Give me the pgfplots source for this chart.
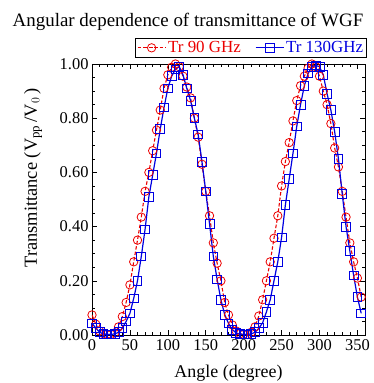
\documentclass[border=0pt]{standalone}
\usepackage{pgfplots}
\pgfplotsset{compat=1.18}
\usepackage{fontspec}
\setmainfont{Liberation Serif}
\definecolor{myred}{RGB}{235,0,0}
\definecolor{myblue}{RGB}{0,0,225}
\begin{document}
\begin{tikzpicture}[x=1bp,y=1bp]
\path[use as bounding box] (-92,-48) rectangle (282,335);
\begin{axis}[
  at={(0,0)}, anchor=origin,
  scale only axis, width=273bp, height=271bp,
  xmin=0, xmax=360, ymin=0, ymax=1,
  xtick={0,50,...,350}, minor x tick num=4,
  ytick={0,0.2,...,1.0}, minor y tick num=3,
  tick align=inside, tick pos=both,
  major tick length=5bp, minor tick length=3bp,
  every tick/.style={black, line width=0.6pt},
  axis line style={line width=0.9pt},
  /pgf/number format/assume math mode=true,
  yticklabel style={/pgf/number format/.cd, fixed, fixed zerofill, precision=2},
  ticklabel style={font=\fontsize{16.5}{16.5}\selectfont},
  xticklabel style={yshift=-1bp},
  xlabel={Angle (degree)},
  ylabel={Transmittance (V$_{\mathrm{pp}}$\,/V$_0$\,)},
  xlabel style={font=\fontsize{18}{18}\selectfont, at={(axis description cs:0.5,0)}, anchor=base, yshift=-42bp},
  ylabel style={font=\fontsize{18.5}{18.5}\selectfont, at={(axis description cs:-0.216,0.58)}, anchor=center},
  legend columns=2,
  legend style={at={(1.007,1)}, anchor=south east, yshift=6bp, draw=black, line width=0.6pt,
    font=\fontsize{17}{17}\selectfont, inner sep=1.5pt, /tikz/every even column/.append style={column sep=12bp}},
  legend image code/.code={\draw[mark repeat=2,mark phase=2] plot coordinates {(0bp,0bp) (14bp,0bp) (28bp,0bp)};},
  legend cell align=left,
]
\addplot[myred, dash pattern=on 3.5pt off 2pt, line width=1.1pt, mark=o, mark size=4.2bp, mark options={solid, line width=0.8pt}] coordinates {
(0,0.074)(5,0.04)(10,0.015)(15,0.005)(20,0.002)(25,0.002)(30,0.008)(35,0.03)(40,0.068)(45,0.12)
(50,0.185)(55,0.27)(60,0.35)(65,0.435)(70,0.53)(75,0.60)(80,0.68)(85,0.756)(90,0.83)(95,0.91)
(100,0.96)(105,0.988)(110,1.0)(115,0.99)(120,0.955)(125,0.915)(130,0.875)(135,0.80)(140,0.73)(145,0.63)
(150,0.53)(155,0.44)(160,0.34)(165,0.265)(170,0.20)(175,0.12)(180,0.074)(185,0.037)(190,0.015)(195,0.005)
(200,0.002)(205,0.002)(210,0.01)(215,0.03)(220,0.07)(225,0.13)(230,0.20)(235,0.27)(240,0.357)(245,0.44)
(250,0.55)(255,0.64)(260,0.71)(265,0.79)(270,0.865)(275,0.92)(280,0.955)(285,0.985)(290,1.0)(295,0.99)
(300,0.955)(305,0.90)(310,0.85)(315,0.78)(320,0.69)(325,0.62)(330,0.53)(335,0.435)(340,0.34)(345,0.27)
(350,0.21)(355,0.14)
};
\addlegendentry{\textcolor{myred}{Tr 90 GHz}}
\addplot[myblue, line width=1.2pt, mark=square, mark size=4.4bp, mark options={solid, line width=0.8pt}] coordinates {
(0,0.043)(5,0.026)(10,0.01)(15,0.004)(20,0.002)(25,0.002)(30,0.004)(35,0.01)(40,0.025)(45,0.05)
(50,0.08)(55,0.135)(60,0.2)(65,0.29)(70,0.39)(75,0.51)(80,0.59)(85,0.67)(90,0.76)(95,0.84)
(100,0.91)(105,0.955)(110,0.98)(115,0.99)(120,0.96)(125,0.91)(130,0.865)(135,0.80)(140,0.74)(145,0.64)
(150,0.53)(155,0.41)(160,0.29)(165,0.205)(170,0.13)(175,0.075)(180,0.043)(185,0.02)(190,0.008)(195,0.003)
(200,0.002)(205,0.002)(210,0.004)(215,0.01)(220,0.025)(225,0.045)(230,0.085)(235,0.13)(240,0.2)(245,0.27)
(250,0.36)(255,0.48)(260,0.575)(265,0.67)(270,0.77)(275,0.85)(280,0.92)(285,0.965)(290,0.99)(295,0.995)
(300,0.99)(305,0.96)(310,0.89)(315,0.83)(320,0.75)(325,0.65)(330,0.52)(335,0.40)(340,0.31)(345,0.22)
(350,0.14)(355,0.08)
};
\addlegendentry{\textcolor{myblue}{Tr 130GHz}}
\end{axis}
\node[font=\fontsize{19}{19}\selectfont, anchor=base] at (96,309) {Angular dependence of transmittance of WGF};
\end{tikzpicture}
\end{document}
